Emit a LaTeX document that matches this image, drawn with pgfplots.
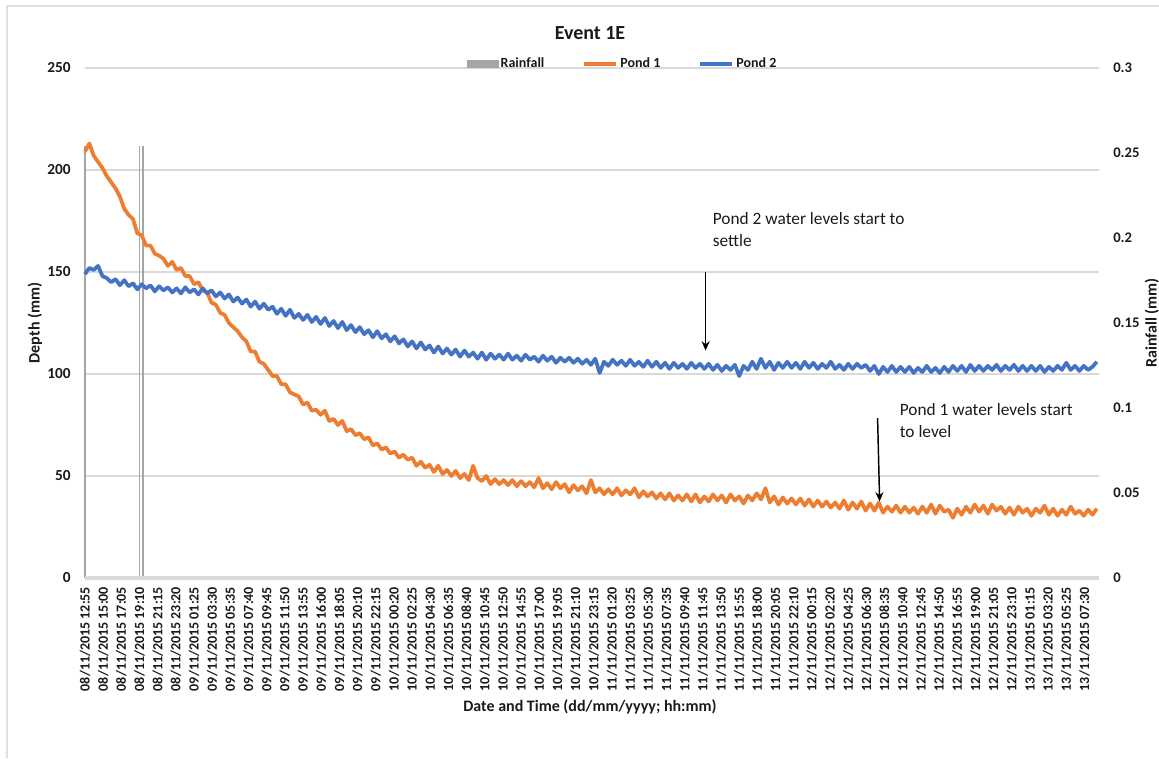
\documentclass[border=0pt]{standalone}
\usepackage{pgfplots}
\pgfplotsset{compat=1.18}
\usepackage{fontspec}
\setmainfont{Carlito}
\usetikzlibrary{arrows.meta}
\definecolor{pondorange}{HTML}{ED7D31}
\definecolor{pondblue}{HTML}{4472C4}
\definecolor{raingray}{HTML}{A5A5A5}
\definecolor{gridgray}{HTML}{D9D9D9}
\definecolor{txt}{HTML}{1A1A1A}

\pgfplotstableread{
t d
0 209
30 213
60 207
90 204
120 201
150 197
180 194
210 191
240 187
270 181
300 178
330 176
360 169
390 168
420 163
450 163
480 159
510 158
540 156.5
570 153
600 155
630 151
660 152
690 148
720 148
750 144
780 145
810 141
840 140
870 135
900 134
930 130
960 129
990 125
1020 123
1050 121
1080 118
1110 116
1140 111
1170 111
1200 106
1230 105
1260 102
1290 99
1320 99
1350 95
1380 95
1410 91
1440 90
1470 89
1500 85
1530 86
1560 82
1590 82.5
1620 80
1650 82
1680 77
1710 78
1740 75
1770 77
1800 72
1830 73
1860 70
1890 71
1920 68
1950 69
1980 65
2010 66
2040 63
2070 64
2100 61
2130 62
2160 59
2190 60.5
2220 58
2250 59
2280 55
2310 57
2340 54
2370 55.5
2400 52
2430 55
2460 51
2490 53
2520 50
2550 52.5
2580 49
2610 51
2640 48
2670 55
2700 49
2730 47.5
2760 50
2790 46
2820 48.5
2850 46
2880 48
2910 45.5
2940 48
2970 45
3000 47.5
3030 45
3060 47
3090 44.5
3120 49
3150 44
3180 46.5
3210 43.5
3240 47
3270 44
3300 46
3330 42
3360 45.5
3390 43
3420 45
3450 41.5
3480 48
3510 42
3540 44
3570 41
3600 43.5
3630 41
3660 44
3690 40.5
3720 43
3750 41
3780 44
3810 39.5
3840 42.5
3870 40
3900 42
3930 39
3960 41.5
3990 38.5
4020 41.5
4050 38
4080 40.5
4110 38
4140 41
4170 37.5
4200 41
4230 37
4260 40
4290 37.5
4320 41
4350 38
4380 40.5
4410 37
4440 41
4470 38
4500 40
4530 36.5
4560 40.5
4590 38
4620 41.5
4650 38.5
4680 44
4710 37
4740 40
4770 36
4800 39.5
4830 36.5
4860 39
4890 36
4920 39
4950 35.5
4980 38.5
5010 35
5040 38
5070 35
5100 37.5
5130 34.5
5160 37
5190 34
5220 38
5250 33.5
5280 37
5310 34
5340 37.5
5370 33
5400 36.5
5430 33
5460 37
5490 32
5520 35
5550 32.5
5580 35.5
5610 32
5640 35
5670 32
5700 34.5
5730 31.5
5760 35
5790 32
5820 36
5850 31.5
5880 35.5
5910 32.5
5940 33.5
5970 29.5
6000 34
6030 31
6060 35
6090 32
6120 36
6150 32.5
6180 35.5
6210 31.5
6240 36
6270 33
6300 35
6330 31.5
6360 34.5
6390 31
6420 35
6450 32
6480 34
6510 30.5
6540 34
6570 32
6600 35.5
6630 31
6660 34
6690 30.5
6720 33.5
6750 31
6780 35
6810 31.5
6840 33
6870 30.5
6900 33.5
6930 31
6960 34
}\pondone

\pgfplotstableread{
t d
0 149
30 152
60 151
90 153
120 148
150 147
180 145
210 146.5
240 143.5
270 146
300 143
330 144.5
360 141.5
390 144
420 142
450 143.5
480 140.5
510 143
540 141
570 142.5
600 140
630 142
660 139.5
690 142.5
720 140
750 141.5
780 139
810 142
840 139.5
870 141
900 138
930 140
960 137
990 139
1020 135.5
1050 137.5
1080 134.5
1110 136.5
1140 133
1170 135.5
1200 132
1230 134.5
1260 131.5
1290 133
1320 129.5
1350 132
1380 128.5
1410 131.5
1440 127.5
1470 129.5
1500 126.5
1530 129
1560 125.5
1590 128
1620 124.5
1650 127.5
1680 123.5
1710 126
1740 122.5
1770 125.5
1800 121.5
1830 124
1860 120.5
1890 123
1920 119.5
1950 121.5
1980 118
2010 121
2040 117.5
2070 119.5
2100 116
2130 118.5
2160 115
2190 117
2220 113.5
2250 116
2280 112.5
2310 115.5
2340 112
2370 114
2400 110.5
2430 113.5
2460 110
2490 112.5
2520 109.5
2550 112
2580 108.5
2610 111.5
2640 108.5
2670 110.5
2700 107.5
2730 110.5
2760 107
2790 110
2820 107.5
2850 109.5
2880 107
2910 110
2940 107
2970 109
3000 106.5
3030 109.5
3060 107
3090 108.5
3120 106
3150 109
3180 106.5
3210 108.5
3240 105.5
3270 108
3300 106
3330 108
3360 105.5
3390 107.5
3420 105
3450 107
3480 104.5
3510 107.5
3540 100.5
3570 106
3600 104
3630 107
3660 104.5
3690 106.5
3720 104
3750 107
3780 104
3810 106
3840 103.5
3870 106.5
3900 103.5
3930 106
3960 103
3990 105.5
4020 102.5
4050 105.5
4080 103
4110 105
4140 102.5
4170 105.5
4200 103
4230 105
4260 102.5
4290 105
4320 102
4350 104.5
4380 101.5
4410 104
4440 102
4470 104.5
4500 99
4530 104
4560 102
4590 106
4620 102.5
4650 107.5
4680 103
4710 106
4740 102
4770 105.5
4800 103
4830 106
4860 103
4890 105.5
4920 102.5
4950 106
4980 103
5010 105.5
5040 102.5
5070 105
5100 103
5130 106
5160 102.5
5190 104.5
5220 102
5250 105
5280 102.5
5310 105
5340 103
5370 104.5
5400 101.5
5430 104
5460 100
5490 103.5
5520 101
5550 104
5580 101
5610 103.5
5640 101
5670 103.5
5700 100.5
5730 103
5760 101
5790 104
5820 101
5850 103
5880 100.5
5910 103.5
5940 101
5970 104
6000 101.5
6030 104
6060 101
6090 104.5
6120 101.5
6150 104
6180 101.5
6210 104
6240 102
6270 104.5
6300 101.5
6330 104
6360 102
6390 104.5
6420 101.5
6450 104
6480 101.5
6510 104
6540 101.5
6570 104
6600 101
6630 103.5
6660 101.5
6690 104
6720 102
6750 105.5
6780 102
6810 104
6840 101.5
6870 104
6900 102
6930 103.5
6960 106
}\pondtwo

\pgfplotstableread{
t r
0 0.254
375 0.254
400 0.254
}\rain

\begin{document}
\begin{tikzpicture}
\useasboundingbox (0,0) rectangle (869.25pt,568.5pt);
\draw[gray!25, line width=0.8pt] (5.25pt,0pt) -- (5.25pt,564pt) -- (869.25pt,564pt);

% secondary axis: rainfall
\begin{axis}[
  scale only axis, width=760.5pt, height=382.5pt,
  at={(63.75pt,135pt)}, anchor=south west,
  xmin=0, xmax=6975, ymin=0, ymax=0.3,
  axis line style={draw=none},
  xtick=\empty,
  ytick={0,0.05,0.1,0.15,0.2,0.25,0.3},
  yticklabels={0,0.05,0.1,0.15,0.2,0.25,0.3},
  yticklabel pos=right,
  major tick length=0pt,
  yticklabel style={font=\bfseries\fontsize{11}{12}\selectfont, text=txt, inner sep=0pt, anchor=west},
  yticklabel shift=10.5pt,
  clip=false,
]
\draw[gridgray, line width=1pt] (rel axis cs:0,0.2) -- (rel axis cs:1,0.2);
\draw[gridgray, line width=1pt] (rel axis cs:0,0.4) -- (rel axis cs:1,0.4);
\draw[gridgray, line width=1pt] (rel axis cs:0,0.6) -- (rel axis cs:1,0.6);
\draw[gridgray, line width=1pt] (rel axis cs:0,0.8) -- (rel axis cs:1,0.8);
\draw[gridgray, line width=1pt] (rel axis cs:0,1) -- (rel axis cs:1,1);
\addplot[ycomb, raingray, line width=1.3pt, mark=none] table[x=t, y=r] {\rain};
\end{axis}

% primary axis: depth
\begin{axis}[
  scale only axis, width=760.5pt, height=382.5pt,
  at={(63.75pt,135pt)}, anchor=south west,
  xmin=0, xmax=6975, ymin=0, ymax=250,
  axis line style={draw=none},
  major tick length=0pt,
  xtick={0,125,...,6875},
  xticklabels={08/11/2015 12:55, 08/11/2015 15:00, 08/11/2015 17:05, 08/11/2015 19:10, 08/11/2015 21:15, 08/11/2015 23:20, 09/11/2015 01:25, 09/11/2015 03:30, 09/11/2015 05:35, 09/11/2015 07:40, 09/11/2015 09:45, 09/11/2015 11:50, 09/11/2015 13:55, 09/11/2015 16:00, 09/11/2015 18:05, 09/11/2015 20:10, 09/11/2015 22:15, 10/11/2015 00:20, 10/11/2015 02:25, 10/11/2015 04:30, 10/11/2015 06:35, 10/11/2015 08:40, 10/11/2015 10:45, 10/11/2015 12:50, 10/11/2015 14:55, 10/11/2015 17:00, 10/11/2015 19:05, 10/11/2015 21:10, 10/11/2015 23:15, 11/11/2015 01:20, 11/11/2015 03:25, 11/11/2015 05:30, 11/11/2015 07:35, 11/11/2015 09:40, 11/11/2015 11:45, 11/11/2015 13:50, 11/11/2015 15:55, 11/11/2015 18:00, 11/11/2015 20:05, 11/11/2015 22:10, 12/11/2015 00:15, 12/11/2015 02:20, 12/11/2015 04:25, 12/11/2015 06:30, 12/11/2015 08:35, 12/11/2015 10:40, 12/11/2015 12:45, 12/11/2015 14:50, 12/11/2015 16:55, 12/11/2015 19:00, 12/11/2015 21:05, 12/11/2015 23:10, 13/11/2015 01:15, 13/11/2015 03:20, 13/11/2015 05:25, 13/11/2015 07:30},
  xticklabel style={rotate=90, anchor=east, font=\bfseries\fontsize{10.5}{12}\selectfont, text=txt, inner sep=0pt},
  xticklabel shift=6.5pt,
  ytick={0,50,100,150,200,250},
  yticklabels={0,50,100,150,200,250},
  yticklabel style={font=\bfseries\fontsize{11.5}{12}\selectfont, text=txt, inner sep=0pt, anchor=east},
  yticklabel shift=10.5pt,
  clip=false,
  legend columns=3,
  legend style={at={(0.373,1.0078)}, anchor=west, draw=none, fill=none,
    font=\bfseries\fontsize{10.5}{12}\selectfont, text=txt,
    /tikz/every even column/.append style={column sep=27pt},
    nodes={inner sep=1.5pt}},
  legend cell align=left,
]
\draw[gridgray, line width=3pt] (rel axis cs:0,0) -- (rel axis cs:1,0);
\addlegendimage{legend image code/.code={\fill[raingray] (0pt,-2.6pt) rectangle (23pt,2.6pt);}}
\addlegendentry{Rainfall}
\addplot[pondorange, line width=2.8pt, line join=round, mark=none,
  legend image code/.code={\draw[pondorange, line width=3pt] (0pt,0pt) -- (24pt,0pt);}]
  table[x=t, y=d] {\pondone};
\addlegendentry{Pond 1}
\addplot[pondblue, line width=2.8pt, line join=round, mark=none,
  legend image code/.code={\draw[pondblue, line width=3pt] (0pt,0pt) -- (24pt,0pt);}]
  table[x=t, y=d] {\pondtwo};
\addlegendentry{Pond 2}

\draw[black, line width=1.1pt, -{Stealth[length=7pt,width=6pt]}] (4269,150) -- (4269,111.5);
\draw[black, line width=1.1pt, -{Stealth[length=7pt,width=6pt]}] (5452,78.4) -- (5466,37.5);
\node[anchor=north west, inner sep=0pt, align=left, font=\fontsize{13}{16.5}\selectfont, text=txt] at (4317,179.5) {Pond 2 water levels start to\\settle};
\node[anchor=north west, inner sep=0pt, align=left, font=\fontsize{13}{16.5}\selectfont, text=txt] at (5603,85.5) {Pond 1 water levels start\\to level};
\end{axis}

\node[font=\bfseries\fontsize{15}{18}\selectfont, text=txt] at (442.5pt,543.75pt) {Event 1E};
\node[font=\bfseries\fontsize{12}{14}\selectfont, text=txt] at (442.5pt,38.25pt) {Date and Time (dd/mm/yyyy; hh:mm)};
\node[rotate=90, font=\bfseries\fontsize{12}{14}\selectfont, text=txt] at (26.25pt,326.25pt) {Depth (mm)};
\node[rotate=90, font=\bfseries\fontsize{12}{14}\selectfont, text=txt] at (864pt,326.25pt) {Rainfall (mm)};
\end{tikzpicture}
\end{document}
